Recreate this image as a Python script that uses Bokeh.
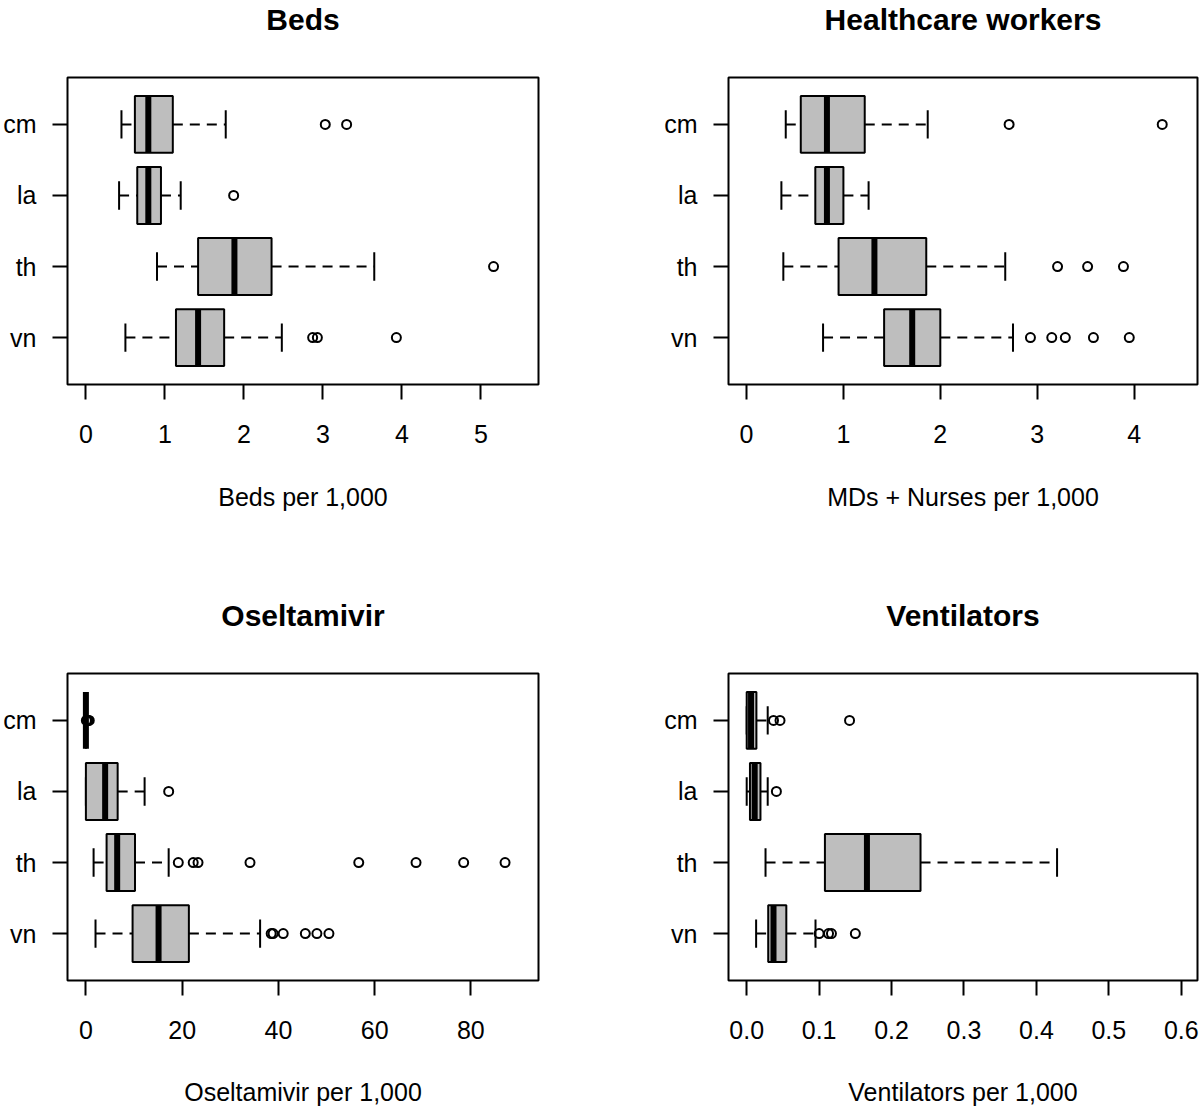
from bokeh.plotting import figure
from bokeh.models import FixedTicker, Range1d
from bokeh.layouts import column, row
from bokeh.embed import file_html
from bokeh.resources import INLINE

FONT = "Liberation Sans"

categories = ["cm", "la", "th", "vn"]
cat_positions = [4, 3, 2, 1]

# ---- Beds per 1,000 ----
beds_lo = [0.45, 0.42, 0.90, 0.50]
beds_q1 = [0.62, 0.65, 1.42, 1.14]
beds_med = [0.79, 0.79, 1.88, 1.42]
beds_q3 = [1.10, 0.95, 2.35, 1.75]
beds_hi = [1.77, 1.20, 3.65, 2.48]
beds_out_cat = ["cm", "cm", "la", "th", "vn", "vn", "vn"]
beds_out_val = [3.03, 3.30, 1.87, 5.16, 2.87, 2.93, 3.93]
beds_ticks = [0, 1, 2, 3, 4, 5]
beds_tick_labels = ["0", "1", "2", "3", "4", "5"]

# ---- MDs + Nurses per 1,000 ----
hcw_lo = [0.405, 0.36, 0.38, 0.79]
hcw_q1 = [0.56, 0.71, 0.95, 1.42]
hcw_med = [0.83, 0.83, 1.32, 1.71]
hcw_q3 = [1.22, 1.00, 1.855, 2.00]
hcw_hi = [1.87, 1.26, 2.67, 2.75]
hcw_out_cat = ["cm", "cm", "th", "th", "th", "vn", "vn", "vn", "vn", "vn"]
hcw_out_val = [2.71, 4.29, 3.21, 3.52, 3.89, 2.93, 3.15, 3.29, 3.58, 3.95]
hcw_ticks = [0, 1, 2, 3, 4]
hcw_tick_labels = ["0", "1", "2", "3", "4"]

# ---- Oseltamivir per 1,000 ----
osel_lo = [0.0, 0.0, 1.6, 2.0]
osel_q1 = [0.0, 0.0, 4.3, 9.7]
osel_med = [0.0, 4.0, 6.5, 15.1]
osel_q3 = [0.0, 6.6, 10.2, 21.4]
osel_hi = [0.0, 12.2, 17.2, 36.2]
osel_out_cat = ["cm", "cm", "cm", "cm", "la",
                "th", "th", "th", "th", "th", "th", "th", "th",
                "vn", "vn", "vn", "vn", "vn", "vn"]
osel_out_val = [0.1, 0.3, 0.5, 0.7, 17.2,
                19.2, 22.3, 23.3, 34.1, 56.7, 68.6, 78.5, 87.1,
                38.5, 38.9, 41.0, 45.6, 48.0, 50.5]
osel_ticks = [0, 20, 40, 60, 80]
osel_tick_labels = ["0", "20", "40", "60", "80"]

# ---- Ventilators per 1,000 ----
vent_lo = [0.0, 0.0, 0.026, 0.013]
vent_q1 = [0.0, 0.0045, 0.108, 0.0297]
vent_med = [0.006, 0.011, 0.166, 0.037]
vent_q3 = [0.0134, 0.019, 0.240, 0.0547]
vent_hi = [0.029, 0.029, 0.4285, 0.095]
vent_out_cat = ["cm", "cm", "cm", "la", "vn", "vn", "vn", "vn"]
vent_out_val = [0.037, 0.046, 0.142, 0.041, 0.100, 0.113, 0.117, 0.150]
vent_ticks = [0.0, 0.1, 0.2, 0.3, 0.4, 0.5, 0.6]
vent_tick_labels = ["0.0", "0.1", "0.2", "0.3", "0.4", "0.5", "0.6"]

Y_LO, Y_HI = 0.34, 4.66
TITLE_H = 36


def make_title(title, width, mb_left, mb_right):
    t = figure(width=width, height=TITLE_H, output_backend="svg",
               toolbar_location=None, title=title, min_border_left=mb_left,
               min_border_right=mb_right, min_border_top=0,
               min_border_bottom=0)
    t.xaxis.visible = False
    t.yaxis.visible = False
    t.grid.grid_line_color = None
    t.outline_line_color = None
    t.background_fill_color = "white"
    t.border_fill_color = "white"
    t.title.text_font = FONT
    t.title.text_font_size = "30px"
    t.title.text_font_style = "bold"
    t.title.text_color = "black"
    t.title.align = "center"
    t.title.standoff = 0
    return t


def make_panel(xlabel, lo, q1, med, q3, hi, out_cat, out_val,
               ticks, tick_labels, xr, width, height, mb_left, mb_right,
               mb_top, mb_bottom, label_gap):
    pos = dict(zip(categories, cat_positions))
    y = [pos[c] for c in categories]
    p = figure(width=width, height=height, x_range=Range1d(*xr),
               y_range=Range1d(Y_LO, Y_HI), output_backend="svg",
               toolbar_location=None, min_border_left=mb_left,
               min_border_right=mb_right, min_border_top=mb_top,
               min_border_bottom=mb_bottom)
    p.background_fill_color = "white"
    p.border_fill_color = "white"
    p.outline_line_color = "black"
    p.outline_line_width = 2
    p.grid.grid_line_color = None

    # whiskers (dashed)
    p.segment(x0=lo, y0=y, x1=q1, y1=y, line_color="black", line_width=2,
              line_dash="10 7")
    p.segment(x0=q3, y0=y, x1=hi, y1=y, line_color="black", line_width=2,
              line_dash="10 7")
    # staples
    p.segment(x0=lo, y0=[v - 0.2 for v in y], x1=lo, y1=[v + 0.2 for v in y],
              line_color="black", line_width=2)
    p.segment(x0=hi, y0=[v - 0.2 for v in y], x1=hi, y1=[v + 0.2 for v in y],
              line_color="black", line_width=2)
    # boxes
    p.hbar(y=y, left=q1, right=q3, height=0.8, fill_color="#BEBEBE",
           line_color="black", line_width=2)
    # medians
    p.segment(x0=med, y0=[v - 0.4 for v in y], x1=med, y1=[v + 0.4 for v in y],
              line_color="black", line_width=6, line_cap="butt")
    # outliers
    p.scatter(x=out_val, y=[pos[c] for c in out_cat], marker="circle", size=9,
              fill_color=None, line_color="black", line_width=2)

    xa = p.below[0]
    xa.ticker = FixedTicker(ticks=ticks)
    xa.major_label_overrides = dict(zip(ticks, tick_labels))
    xa.axis_line_color = None
    xa.major_tick_out = 15
    xa.major_tick_in = 0
    xa.major_tick_line_width = 2
    xa.major_tick_line_color = "black"
    xa.minor_tick_line_color = None
    xa.major_label_text_font = FONT
    xa.major_label_text_font_size = "25px"
    xa.major_label_text_color = "black"
    xa.major_label_standoff = 25
    xa.axis_label = xlabel
    xa.axis_label_text_font = FONT
    xa.axis_label_text_font_size = "25px"
    xa.axis_label_text_font_style = "normal"
    xa.axis_label_text_color = "black"
    xa.axis_label_standoff = label_gap

    ya = p.left[0]
    ya.ticker = FixedTicker(ticks=cat_positions)
    ya.major_label_overrides = dict(zip(cat_positions, categories))
    ya.axis_line_color = None
    ya.major_tick_out = 15
    ya.major_tick_in = 0
    ya.major_tick_line_width = 2
    ya.major_tick_line_color = "black"
    ya.minor_tick_line_color = None
    ya.major_label_text_font = FONT
    ya.major_label_text_font_size = "25px"
    ya.major_label_text_color = "black"
    ya.major_label_standoff = 16
    return p


t1 = make_title("Beds", 600, 67, 62)
p1 = make_panel("Beds per 1,000", beds_lo, beds_q1, beds_med, beds_q3,
                beds_hi, beds_out_cat, beds_out_val, beds_ticks,
                beds_tick_labels, (-0.233, 5.729), 600, 596 - TITLE_H, 67, 62,
                77 - TITLE_H, 212, 37)
t2 = make_title("Healthcare workers", 600, 128, 3)
p2 = make_panel("MDs + Nurses per 1,000", hcw_lo, hcw_q1,
                hcw_med, hcw_q3, hcw_hi, hcw_out_cat, hcw_out_val, hcw_ticks,
                hcw_tick_labels, (-0.1858, 4.654), 600, 596 - TITLE_H, 128, 3,
                77 - TITLE_H, 212, 37)
t3 = make_title("Oseltamivir", 600, 67, 62)
p3 = make_panel("Oseltamivir per 1,000", osel_lo, osel_q1,
                osel_med, osel_q3, osel_hi, osel_out_cat, osel_out_val,
                osel_ticks, osel_tick_labels, (-3.823, 94.05), 600,
                512 - TITLE_H, 67, 62, 77 - TITLE_H, 128, 36)
t4 = make_title("Ventilators", 600, 128, 3)
p4 = make_panel("Ventilators per 1,000", vent_lo, vent_q1,
                vent_med, vent_q3, vent_hi, vent_out_cat, vent_out_val,
                vent_ticks, vent_tick_labels, (-0.02513, 0.6224), 600,
                512 - TITLE_H, 128, 3, 77 - TITLE_H, 128, 36)

layout = column(row(column(t1, p1), column(t2, p2)),
                row(column(t3, p3), column(t4, p4)))
open("out.html", "w").write(file_html(layout, INLINE))
